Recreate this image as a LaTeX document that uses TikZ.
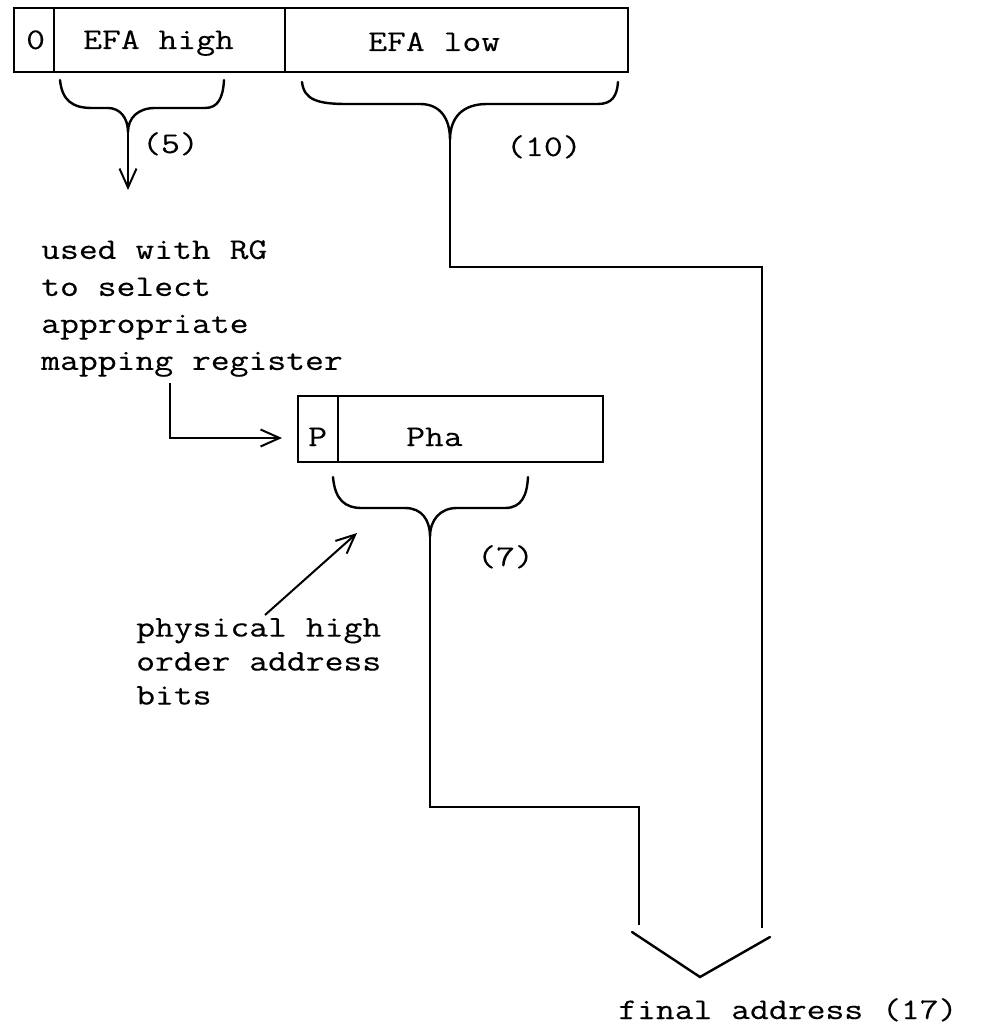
\documentclass[tikz,border=0pt]{standalone}
\usepackage{fontspec}
\setmonofont{Latin Modern Mono}[FakeStretch=1.22,FakeBold=0.25]
\usetikzlibrary{arrows.meta}
\begin{document}
\begin{tikzpicture}[x=1pt,y=-1pt,
  reg/.style={draw, line width=2pt, inner sep=0pt, outer sep=0pt},
  txt/.style={font=\ttfamily\fontsize{30}{37}\selectfont, inner sep=0pt, anchor=base west},
  blk/.style={font=\ttfamily\fontsize{30}{37}\selectfont, inner sep=0pt, anchor=north west, align=left},
  wire/.style={line width=2pt},
  brc/.style={line width=2.4pt, line cap=round},
  tipped/.style={-{Straight Barb[length=19pt,width=17pt,line width=2pt]}}
]
\useasboundingbox (0,0) rectangle (980,1032);

% top register
\node[reg, minimum width=40, minimum height=64] (c0) at (34,40) {};
\node[reg, minimum width=231, minimum height=64] (c1) at (169.5,40) {};
\node[reg, minimum width=343, minimum height=64] (c2) at (456.5,40) {};
\node[txt] (t0) at (26,49) {0};
\node[txt] (t1) at (83,49) {EFA high};
\node[txt] (t2) at (368,51) {EFA low};

% second register
\node[reg, minimum width=40, minimum height=66] (cP) at (318,429) {};
\node[reg, minimum width=265, minimum height=66] (cPha) at (470.5,429) {};
\node[txt] (tP) at (308,446) {P};
\node[txt] (tPha) at (406,446) {Pha};

% labels
\node[txt] (l5) at (142,153) {(5)};
\node[txt] (l10) at (506,156) {(10)};
\node[txt] (l7) at (477,566) {(7)};
\node[blk] (used) at (41,240) {used with RG\\to select\\appropriate\\mapping register};
\node[blk, font=\ttfamily\fontsize{30}{34}\selectfont] (phys) at (136,618) {physical high\\order address\\bits};
\node[txt] (final) at (618,1019) {final address (17)};

% coordinates
\coordinate (b1tip) at (128,132);
\coordinate (a1end) at (128,190);
\coordinate (b2tip) at (450,140);
\coordinate (r1) at (762,267);
\coordinate (r2) at (762,928);
\coordinate (b3tip) at (430,537);
\coordinate (m1) at (639,807);
\coordinate (m2) at (639,925);
\coordinate (vl) at (632,932);
\coordinate (vt) at (700,977);
\coordinate (vr) at (770,937);
\coordinate (ms) at (170,383);
\coordinate (me) at (282,438);
\coordinate (ps) at (265,615);
\coordinate (pe) at (357,533);

% braces
\draw[brc] (60,80) .. controls (62,100) and (72,108) .. (92,108) -- (108,108)
  .. controls (120,108) and (128,118) .. (b1tip)
  .. controls (128,118) and (138,108) .. (155,108) -- (205,108)
  .. controls (218,108) and (223,98) .. (224,80);
\draw[brc] (302,82) .. controls (304,100) and (318,104) .. (347,104) -- (420,104)
  .. controls (440,104) and (450,118) .. (b2tip)
  .. controls (450,118) and (462,104) .. (487,104) -- (598,104)
  .. controls (612,104) and (617,96) .. (618,82);
\draw[brc] (333,477) .. controls (335,500) and (345,508) .. (362,508) -- (405,508)
  .. controls (422,508) and (430,520) .. (b3tip)
  .. controls (430,520) and (440,508) .. (457,508) -- (505,508)
  .. controls (522,508) and (527,495) .. (528,477);

% connectors
\draw[wire, tipped] (b1tip) -- (a1end);
\draw[wire] (b2tip) |- (r1) -- (r2);
\draw[wire] (b3tip) |- (m1) -- (m2);
\draw[brc] (vl) -- (vt) -- (vr);
\draw[wire, tipped] (ms) |- (me);
\draw[wire, tipped] (ps) -- (pe);
\end{tikzpicture}
\end{document}
